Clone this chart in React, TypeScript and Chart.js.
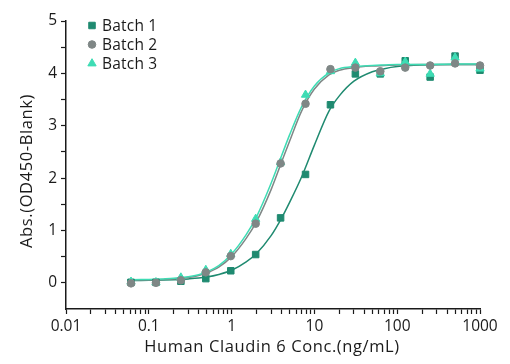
import React, { useEffect, useRef } from 'react';
import { Chart, registerables } from 'chart.js';
import { drawPoint } from 'chart.js/helpers';

Chart.register(...registerables);

// Measured concentrations (ng/mL)
const concentrations = [0.061, 0.122, 0.244, 0.488, 0.977, 1.953, 3.906, 7.813, 15.625, 31.25, 62.5, 125, 250, 500, 1000];

// Measured absorbance per batch
const batch1 = [0.01, 0.01, 0.03, 0.08, 0.23, 0.54, 1.24, 2.07, 3.4, 3.99, 3.99, 4.24, 3.93, 4.33, 4.06];
const batch2 = [-0.01, 0.0, 0.05, 0.2, 0.51, 1.13, 2.28, 3.42, 4.08, 4.11, 4.04, 4.11, 4.15, 4.19, 4.15];
const batch3 = [0.02, 0.01, 0.1, 0.245, 0.55, 1.22, 2.3, 3.59, 4.04, 4.2, 4.0, 4.22, 3.99, 4.3, 4.09];

// Fitted curves
const curveX = [0.055, 0.08, 0.1, 0.15, 0.2, 0.3, 0.4, 0.5, 0.7, 1, 1.5, 2, 3, 4, 5, 7, 10, 15, 20, 30, 50, 70, 100, 200, 500, 1000];
const fit1 = [0.045, 0.046, 0.048, 0.053, 0.06, 0.075, 0.09, 0.11, 0.16, 0.24, 0.4, 0.56, 0.9, 1.23, 1.53, 2.02, 2.63, 3.28, 3.57, 3.85, 4.03, 4.09, 4.13, 4.16, 4.17, 4.17];
const fit2 = [0.05, 0.052, 0.055, 0.065, 0.075, 0.1, 0.14, 0.19, 0.3, 0.5, 0.85, 1.17, 1.78, 2.3, 2.7, 3.28, 3.7, 3.97, 4.06, 4.11, 4.14, 4.15, 4.16, 4.17, 4.17, 4.17];
const fit3 = [0.06, 0.062, 0.065, 0.075, 0.085, 0.115, 0.155, 0.21, 0.33, 0.55, 0.92, 1.26, 1.9, 2.42, 2.82, 3.36, 3.76, 4.01, 4.09, 4.13, 4.15, 4.16, 4.17, 4.17, 4.18, 4.18];

const seriesNames = ['Batch 1', 'Batch 2', 'Batch 3'];
const seriesColors = ['#1f8a70', '#7f8786', '#3edcb4'];
const seriesShapes = ['rect', 'circle', 'triangle'];
const seriesRadius = [4.6, 3.8, 4.8];

const xTickLabels = ['0.01', '0.1', '1', '10', '100', '1000'];
const xMin = 0.01;
const xMax = 1000;
const yMin = -0.5;
const yMax = 5;
const xTitle = 'Human Claudin 6 Conc.(ng/mL)';
const yTitle = 'Abs.(OD450-Blank)';

const FONT = '"Open Sans", sans-serif';
const TEXT = '#1a1a1a';

export default function App() {
  const ref = useRef<HTMLCanvasElement>(null);

  useEffect(() => {
    if (!ref.current) return;

    const points = (ys: number[]) => concentrations.map((x, i) => ({ x, y: ys[i] }));
    const curve = (ys: number[]) => curveX.map((x, i) => ({ x, y: ys[i] }));

    const overlayPlugin = {
      id: 'overlayText',
      afterDraw(chart: any) {
        const ctx = chart.ctx;
        const { left, right, top, bottom } = chart.chartArea;
        ctx.save();
        // legend
        ctx.font = `15.5px ${FONT}`;
        ctx.textBaseline = 'middle';
        ctx.textAlign = 'left';
        (ctx as any).letterSpacing = '0.2px';
        seriesNames.forEach((name, i) => {
          const cy = top + 4.5 + i * 19;
          ctx.fillStyle = seriesColors[i];
          ctx.strokeStyle = seriesColors[i];
          ctx.lineWidth = 1;
          drawPoint(ctx, { pointStyle: seriesShapes[i], radius: seriesRadius[i], borderWidth: 1, rotation: 0 } as any, left + 26, cy);
          ctx.fillStyle = TEXT;
          ctx.fillText(name, left + 36, cy + 1);
        });
        // axis titles
        ctx.font = `16.5px ${FONT}`;
        (ctx as any).letterSpacing = '0.6px';
        ctx.textAlign = 'center';
        ctx.fillStyle = TEXT;
        ctx.fillText(xTitle, (left + right) / 2 - 1, 347.5);
        ctx.translate(27.5, (top + bottom) / 2 + 6);
        ctx.rotate(-Math.PI / 2);
        ctx.fillText(yTitle, 0, 0);
        ctx.restore();
      },
    };

    const scatterSets = [batch1, batch2, batch3].map((ys, i) => ({
      type: 'scatter' as const,
      label: seriesNames[i],
      data: points(ys),
      pointStyle: seriesShapes[i],
      pointRadius: seriesRadius[i],
      pointBackgroundColor: seriesColors[i],
      pointBorderColor: seriesColors[i],
      pointBorderWidth: 1,
      showLine: false,
      clip: false as any,
      order: [2, 0, 1][i],
    }));

    const curveSets = [fit1, fit2, fit3].map((ys, i) => ({
      type: 'line' as const,
      label: seriesNames[i] + ' fit',
      data: curve(ys),
      borderColor: seriesColors[i],
      borderWidth: 1.5,
      pointRadius: 0,
      cubicInterpolationMode: 'monotone' as const,
      fill: false,
      order: [5, 4, 3][i],
    }));

    const chart = new Chart(ref.current, {
      type: 'scatter',
      data: { datasets: [...scatterSets, ...curveSets] as any },
      options: {
        animation: false,
        responsive: true,
        maintainAspectRatio: false,
        layout: { padding: { left: 0, top: 21, right: 30, bottom: 0 } },
        plugins: { legend: { display: false }, tooltip: { enabled: false } },
        scales: {
          x: {
            type: 'logarithmic',
            min: xMin,
            max: xMax,
            afterBuildTicks: (scale: any) => {
              const ticks: { value: number }[] = [];
              for (let e = -2; e <= 2; e++) {
                for (let k = 1; k <= 9; k++) {
                  ticks.push({ value: Number((k * Math.pow(10, e)).toPrecision(10)) });
                }
              }
              ticks.push({ value: xMax });
              scale.ticks = ticks;
            },
            afterFit: (scale: any) => {
              scale.height = 55;
            },
            ticks: {
              autoSkip: false,
              maxRotation: 0,
              padding: 3,
              color: TEXT,
              font: { family: FONT, size: 15.5 },
              callback: (value: any) => {
                const lg = Math.log10(Number(value));
                const r = Math.round(lg);
                if (Math.abs(lg - r) < 1e-6) return xTickLabels[r + 2];
                return '';
              },
            },
            grid: {
              drawOnChartArea: false,
              drawTicks: true,
              tickLength: 5,
              color: TEXT,
              tickWidth: 1.2,
            },
            border: { display: true, color: TEXT, width: 1.5 },
            title: { display: false },
          },
          y: {
            type: 'linear',
            min: yMin,
            max: yMax,
            afterFit: (scale: any) => {
              scale.width = 66;
            },
            ticks: {
              stepSize: 0.5,
              padding: 4,
              color: TEXT,
              font: { family: FONT, size: 15.5 },
              callback: (value: any) => (Number.isInteger(Number(value)) ? String(value) : ''),
            },
            grid: {
              drawOnChartArea: false,
              drawTicks: true,
              tickLength: 5,
              color: (c: any) => (c.tick && c.tick.value === yMin ? 'rgba(0,0,0,0)' : TEXT),
              tickWidth: 1.2,
            },
            border: { display: true, color: TEXT, width: 1.5 },
            title: { display: false },
          },
        },
      },
      plugins: [overlayPlugin],
    });

    return () => chart.destroy();
  }, []);

  return (
    <div style={{ position: 'fixed', left: 0, top: 0, width: 510, height: 364 }}>
      <canvas ref={ref} />
    </div>
  );
}
